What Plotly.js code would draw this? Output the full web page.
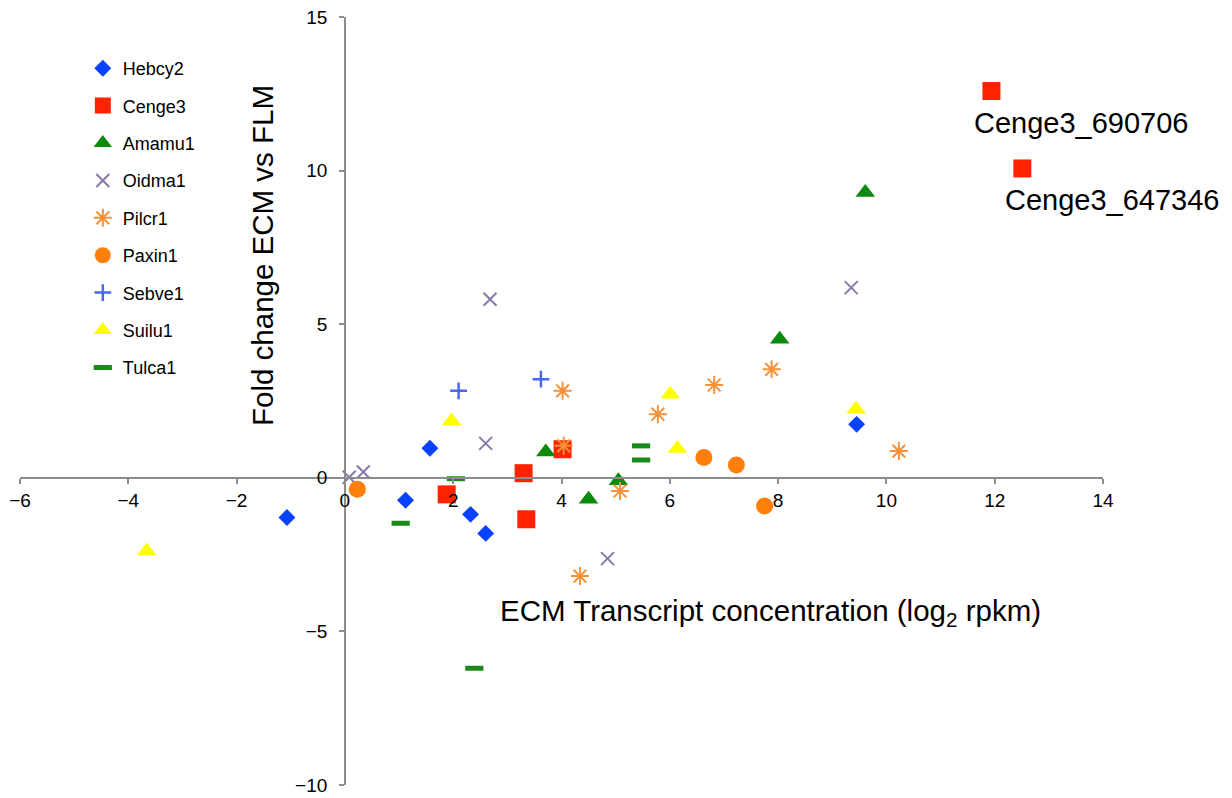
<!DOCTYPE html>
<html>
<head>
<meta charset="utf-8">
<script src="https://cdn.plot.ly/plotly-3.0.1.min.js"></script>
<style>html,body{margin:0;padding:0;background:#fff;}#chart{width:1232px;height:798px;}</style>
</head>
<body>
<div id="chart"></div>
<script>
// ---- data (x = ECM transcript concentration log2 rpkm, y = fold change ECM vs FLM) ----
const hebcy2X = [-1.07, 1.12, 1.57, 2.32, 2.60, 9.45];
const hebcy2Y = [-1.29, -0.73, 0.96, -1.19, -1.81, 1.74];
const cenge3X = [11.94, 12.51, 1.88, 3.30, 3.35, 4.02];
const cenge3Y = [12.59, 10.07, -0.54, 0.15, -1.35, 0.93];
const amamu1X = [9.61, 8.03, 3.71, 4.50, 5.05];
const amamu1Y = [9.29, 4.51, 0.84, -0.70, -0.10];
const oidma1X = [0.08, 0.34, 2.68, 2.60, 4.85, 9.35];
const oidma1Y = [0.02, 0.19, 5.81, 1.12, -2.63, 6.19];
const pilcr1X = [4.02, 4.04, 5.78, 6.82, 7.88, 10.23, 5.08, 4.34];
const pilcr1Y = [2.83, 1.04, 2.07, 3.02, 3.53, 0.87, -0.43, -3.20];
const paxin1X = [0.23, 6.63, 7.23, 7.75];
const paxin1Y = [-0.37, 0.66, 0.42, -0.92];
const sebve1X = [2.10, 3.62];
const sebve1Y = [2.83, 3.21];
const suilu1X = [-3.66, 1.97, 6.01, 6.14, 9.44];
const suilu1Y = [-2.38, 1.85, 2.72, 0.95, 2.23];
const tulca1X = [2.05, 1.03, 2.39, 5.47, 5.47];
const tulca1Y = [-0.03, -1.48, -6.20, 1.04, 0.58];

const seriesNames = ['Hebcy2','Cenge3','Amamu1','Oidma1','Pilcr1','Paxin1','Sebve1','Suilu1','Tulca1'];
const labelledPoints = [
  {name: 'Cenge3_690706', series: 'Cenge3', index: 0},
  {name: 'Cenge3_647346', series: 'Cenge3', index: 1}
];
const xTitle = 'ECM Transcript concentration (log<sub>2</sub> rpkm)';
const yTitle = 'Fold change ECM vs FLM';

const seriesData = {
  Hebcy2: [hebcy2X, hebcy2Y], Cenge3: [cenge3X, cenge3Y], Amamu1: [amamu1X, amamu1Y],
  Oidma1: [oidma1X, oidma1Y], Pilcr1: [pilcr1X, pilcr1Y], Paxin1: [paxin1X, paxin1Y],
  Sebve1: [sebve1X, sebve1Y], Suilu1: [suilu1X, suilu1Y], Tulca1: [tulca1X, tulca1Y]
};
const markerStyles = {
  Hebcy2: {symbol: 'diamond', size: 13, color: '#0A40FF'},
  Cenge3: {symbol: 'square', size: 18, color: '#FF2200'},
  Amamu1: {symbol: 'triangle-up', size: 17, color: '#0B8A0B'},
  Oidma1: {symbol: 'x-thin-open', size: 13, color: '#8A78AB', line: {width: 2, color: '#8A78AB'}},
  Pilcr1: {symbol: 'asterisk-open', size: 15, color: '#F7923A', line: {width: 2, color: '#F7923A'}},
  Paxin1: {symbol: 'circle', size: 17, color: '#FF7F0A'},
  Sebve1: {symbol: 'cross-thin-open', size: 12, color: '#4A66F2', line: {width: 2.5, color: '#4A66F2'}},
  Suilu1: {symbol: 'triangle-up', size: 17, color: '#FFFF00'},
  Tulca1: {symbol: 'line-ew-open', size: 13, color: '#1A8A1A', line: {width: 5, color: '#1A8A1A'}}
};

const traces = seriesNames.map(n => {
  const st = markerStyles[n];
  const m = {symbol: st.symbol, size: st.size, color: st.color};
  m.line = st.line ? st.line : {width: 0};
  return {
    type: 'scatter', mode: 'markers', name: n, legendgroup: n,
    x: seriesData[n][0], y: seriesData[n][1], marker: m, hoverinfo: 'x+y+name'
  };
});

const baseFont = {family: 'Liberation Sans, Arial, Helvetica, sans-serif', color: '#000'};
const annotations = labelledPoints.map(p => ({
  x: seriesData[p.series][0][p.index], y: seriesData[p.series][1][p.index],
  xref: 'x', yref: 'y', text: p.name, showarrow: false,
  xanchor: 'center', yanchor: 'middle', xshift: 90, yshift: -32,
  font: Object.assign({}, baseFont, {size: 29})
}));
annotations.push({
  xref: 'paper', yref: 'paper', x: (770 - 20) / 1083, y: (785 - 612) / 768,
  text: xTitle, showarrow: false, xanchor: 'center', yanchor: 'middle',
  font: Object.assign({}, baseFont, {size: 29.5})
});
annotations.push({
  xref: 'paper', yref: 'paper', x: (263 - 20) / 1083, y: (785 - 256) / 768,
  text: yTitle, showarrow: false, textangle: -90, xanchor: 'center', yanchor: 'middle',
  font: Object.assign({}, baseFont, {size: 29.5})
});

const xRange = [-6, 14], yRange = [-10, 15];
const layout = {
  width: 1232, height: 798,
  margin: {l: 20, r: 129, t: 17, b: 13, pad: 0},
  paper_bgcolor: '#fff', plot_bgcolor: '#fff',
  font: baseFont,
  showlegend: true,
  legend: {
    x: 0.058, y: 0.957, xanchor: 'left', yanchor: 'top',
    font: Object.assign({}, baseFont, {size: 18}),
    traceorder: 'grouped', tracegroupgap: 11, bgcolor: 'rgba(0,0,0,0)', borderwidth: 0
  },
  xaxis: {
    range: xRange, dtick: 2, tick0: 0, showgrid: false, zeroline: false,
    showline: true, linecolor: '#8c8c8c', linewidth: 1.5,
    ticks: 'outside', ticklen: 5, tickcolor: '#8c8c8c', tickwidth: 1.5,
    anchor: 'free', position: (0 - yRange[0]) / (yRange[1] - yRange[0]),
    tickfont: Object.assign({}, baseFont, {size: 19}), ticklabelstandoff: 1
  },
  yaxis: {
    range: yRange, dtick: 5, tick0: 0, showgrid: false, zeroline: false,
    showline: true, linecolor: '#8c8c8c', linewidth: 1.5,
    ticks: 'outside', ticklen: 5, tickcolor: '#8c8c8c', tickwidth: 1.5,
    anchor: 'free', position: (0 - xRange[0]) / (xRange[1] - xRange[0]),
    tickfont: Object.assign({}, baseFont, {size: 19}), ticklabelstandoff: 8
  },
  annotations: annotations
};

Plotly.newPlot('chart', traces, layout, {displayModeBar: false, staticPlot: false});
</script>
</body>
</html>
